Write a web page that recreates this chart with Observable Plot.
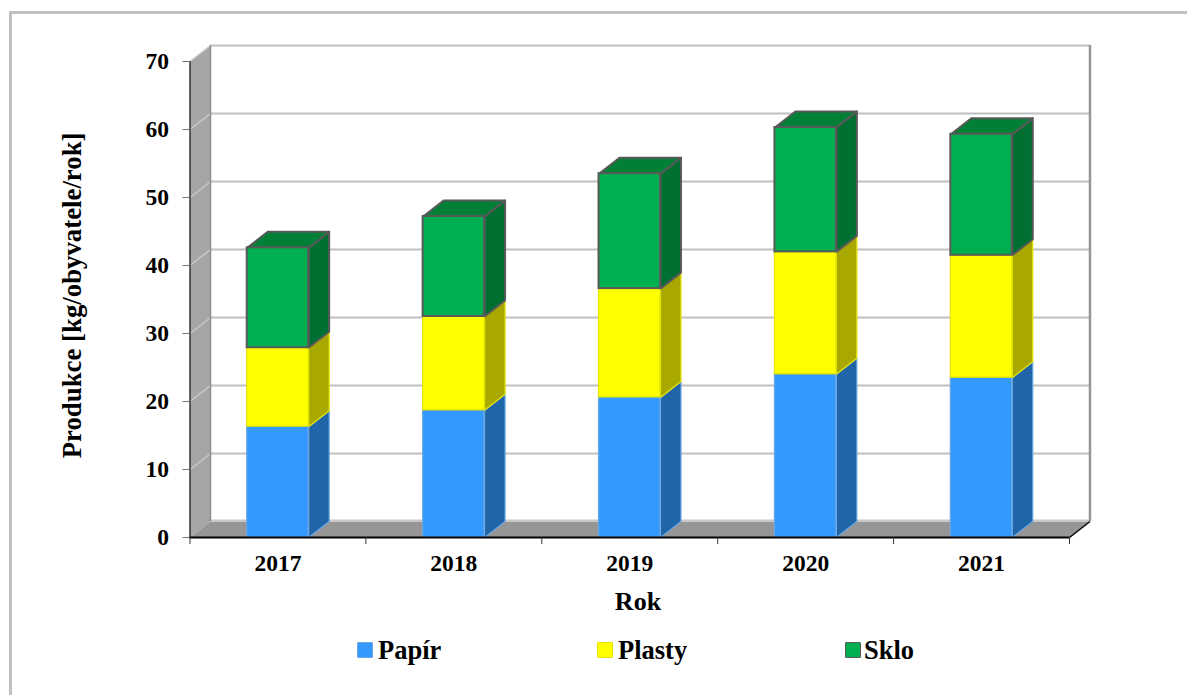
<!DOCTYPE html>
<html><head><meta charset="utf-8">
<script src="https://cdn.jsdelivr.net/npm/d3@7"></script>
<script src="https://cdn.jsdelivr.net/npm/@observablehq/plot@0.6"></script>
<style>
html,body{margin:0;padding:0;background:#fff;}
#page{position:relative;width:1187px;height:695px;overflow:hidden;font-family:"Liberation Serif",serif;}
#frame{position:absolute;left:9px;top:11px;right:-5px;bottom:-5px;border:3px solid #c0c0c0;}
#chart{position:absolute;left:0;top:0;}
.lg{position:absolute;top:635px;font-size:26.5px;font-weight:bold;color:#000;line-height:30px;white-space:nowrap;}
.sw{position:absolute;top:642px;width:14px;height:14px;border-radius:1px;border:1.5px solid;}
</style></head><body>
<div id="page"><div id="frame"></div><div id="chart"></div>
<div id="legend"></div></div>
<script>
const years = [2017, 2018, 2019, 2020, 2021];
const papir = [16.3, 18.7, 20.6, 24.0, 23.5];
const plasty = [11.6, 13.8, 16.0, 18.0, 18.0];
const sklo = [14.7, 14.7, 16.9, 18.3, 17.8];
const yTicks = [0, 10, 20, 30, 40, 50, 60, 70];
const seriesNames = ["Papír", "Plasty", "Sklo"];
const frontColors = ["#3399ff", "#ffff00", "#00b050"];
const sideColors = ["#2065a8", "#a8a800", "#006f32"];
const edgeColors = ["#6aa8e4", "#e4e400", "#595959"];
const topColor = "#008037";

// 3D projection, expressed in scale units
const depthX = 20.5 / 176, depthY = 16 / 6.8, barW = 61.5 / 176;
const nCat = years.length, yMax = 70;
const serif = '"Liberation Serif", serif';

const segs = [];
years.forEach((yr, i) => {
  let base = 0;
  [papir, plasty, sklo].forEach((vals, s) => {
    const top = base + vals[i];
    segs.push({id: yr + "-" + s, s, x1: i + .5 - barW / 2, x2: i + .5 + barW / 2, y1: base, y2: top});
    base = top;
  });
});
const sidePoly = d => [
  {id: d.id, x: d.x2, y: d.y1}, {id: d.id, x: d.x2 + depthX, y: d.y1 + depthY},
  {id: d.id, x: d.x2 + depthX, y: d.y2 + depthY}, {id: d.id, x: d.x2, y: d.y2}];
const topPoly = d => [
  {id: d.id, x: d.x1, y: d.y2}, {id: d.id, x: d.x1 + depthX, y: d.y2 + depthY},
  {id: d.id, x: d.x2 + depthX, y: d.y2 + depthY}, {id: d.id, x: d.x2, y: d.y2}];
const poly = (pts, o) => Plot.line(pts, {x: "x", y: "y", curve: "linear-closed", ...o});

const marks = [
  // left wall and floor
  poly([{x:0,y:0},{x:depthX,y:depthY},{x:depthX,y:yMax+depthY},{x:0,y:yMax}], {fill:"#a6a6a6", stroke:"none"}),
  poly([{x:0,y:0},{x:depthX,y:depthY},{x:nCat+depthX,y:depthY},{x:nCat,y:0}], {fill:"#969696", stroke:"none"}),
  // gridlines: on back wall, and diagonal on left wall
  Plot.ruleY(yTicks.slice(1), {x1: depthX, x2: nCat + depthX, y: d => d + depthY, stroke:"#c0c0c0", strokeWidth:2}),
  Plot.ruleY([0], {x1: depthX, x2: nCat + depthX, y: depthY, stroke:"#c8c8c8", strokeWidth:2, dy:-1}),
  Plot.link(yTicks.slice(1), {x1: 0, x2: depthX, y1: d => d, y2: d => d + depthY, stroke:"#c8c8c8", strokeWidth:1.5}),
  Plot.ruleX([depthX], {y1: depthY, y2: yMax + depthY, stroke:"#8c8c8c", strokeWidth:1.5}),
  Plot.ruleX([nCat + depthX], {y1: depthY, y2: yMax + depthY, stroke:"#969696", strokeWidth:2.5}),
];

// bars: draw bottom segments first
seriesNames.forEach((name, s) => {
  const ss = segs.filter(d => d.s === s);
  marks.push(poly(ss.flatMap(sidePoly), {z:"id", fill: sideColors[s], stroke: edgeColors[s], strokeWidth: s === 2 ? 2 : 1.2}));
  if (s === 2) marks.push(poly(ss.flatMap(topPoly), {z:"id", fill: topColor, stroke: edgeColors[s], strokeWidth: 2}));
});
seriesNames.forEach((name, s) => {
  marks.push(Plot.rect(segs.filter(d => d.s === s), {x1:"x1", x2:"x2", y1:"y1", y2:"y2", fill: frontColors[s], stroke: edgeColors[s], strokeWidth: s === 2 ? 2 : 1.2}));
});

marks.push(
  // axis lines
  Plot.ruleX([0], {y1: 0, y2: yMax, stroke:"#333", strokeWidth:1.5}),
  Plot.ruleY([0], {x1: 0, x2: nCat, stroke:"#000", strokeWidth:2}),
  Plot.link([0], {x1: nCat, x2: nCat + depthX, y1: 0, y2: depthY, stroke:"#000", strokeWidth:1.5}),
  Plot.axisY({ticks: yTicks, tickSize: 7, tickPadding: 14, label: null, stroke:"#777", fontSize: 23.5, fontWeight:"bold", fontFamily: serif, color:"#000"}),
  Plot.axisX({ticks: d3.range(0, nCat + 1), tickSize: 7, tickFormat: () => "", label: null, stroke:"#333"}),
  Plot.axisX({ticks: years.map((_, i) => i + .5), tickSize: 0, tickPadding: 17, tickFormat: (d) => String(years[Math.floor(d)]), label: null, fontSize: 23.5, fontWeight:"bold", fontFamily: serif}),
  Plot.text(["Rok"], {x: nCat / 2 + depthX / 2, y: 0, dy: 64, dx: -2, text: d => d, fontSize: 26, fontWeight:"bold", fontFamily: serif, fill:"#000"}),
  Plot.text(["Produkce [kg/obyvatele/rok]"], {x: 0, y: 35.6, dx: -117.5, rotate: -90, text: d => d, fontSize: 26.8, fontWeight:"bold", fontFamily: serif, fill:"#000"})
);

const plot = Plot.plot({
  width: 1187, height: 620,
  marginLeft: 189.5, marginRight: 118, marginTop: 61, marginBottom: 83,
  x: {type:"linear", domain:[0, nCat], axis:null},
  y: {domain:[0, yMax], axis:null},
  style: {background:"transparent", overflow:"visible", color:"#000"},
  marks
});
document.getElementById("chart").append(plot);

// legend
const legend = document.getElementById("legend");
[[357,378],[597,618],[845,864]].forEach(([sx, tx], s) => {
  const sw = document.createElement("div");
  sw.className = "sw";
  sw.style.cssText = `left:${sx}px;background:${frontColors[s]};border-color:${edgeColors[s]}`;
  const t = document.createElement("div");
  t.className = "lg";
  t.style.left = tx + "px";
  t.textContent = seriesNames[s];
  legend.append(sw, t);
});
</script></body></html>
